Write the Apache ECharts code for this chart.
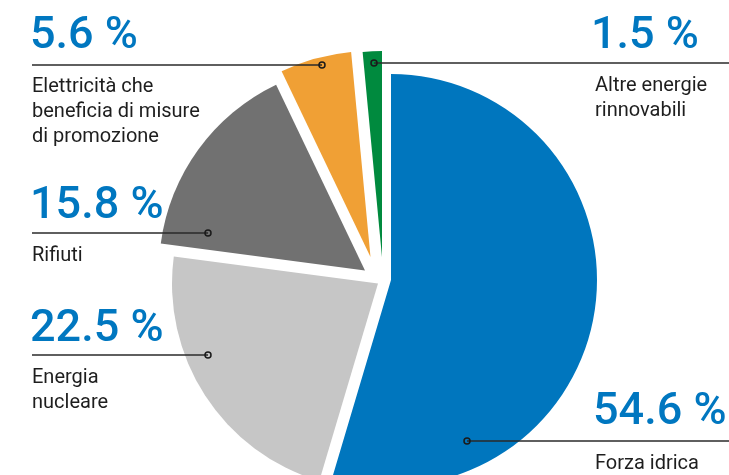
<!DOCTYPE html>
<html>
<head>
<meta charset="utf-8">
<script src="https://cdn.jsdelivr.net/npm/echarts@6/dist/echarts.min.js"></script>
<style>
html,body{margin:0;padding:0;background:#fff;}
#chart{width:729px;height:475px;}
</style>
</head>
<body>
<div id="chart"></div>
<script>
// ---- data ----
const categories = ['Forza idrica', 'Energia nucleare', 'Rifiuti', 'Elettricità che beneficia di misure di promozione', 'Altre energie rinnovabili'];
const values = [54.6, 22.5, 15.8, 5.6, 1.5];
const nameLines = [
  ['Forza idrica'],
  ['Energia', 'nucleare'],
  ['Rifiuti'],
  ['Elettricità che', 'beneficia di misure', 'di promozione'],
  ['Altre energie', 'rinnovabili']
];

// ---- styling / layout ----
const colors = ['#0076BE', '#C6C6C6', '#717171', '#F0A035', '#008A3E'];
const centers = [[391, 280], [378, 283.5], [365, 270.5], [370.5, 257], [382, 257]];
const R = 206;
const blue = '#0077C0';
const ink = '#1e1e1e';

const labelLayout = [
  {tx: 595, nx: 593, ny: 413, ly: 441, x1: 467, x2: 729, cx: 467, nameY: 464},
  {tx: 32, nx: 30, ny: 330, ly: 355, x1: 32, x2: 208, cx: 208, nameY: 378},
  {tx: 32, nx: 30, ny: 207, ly: 233, x1: 32, x2: 208, cx: 208, nameY: 256},
  {tx: 32, nx: 30, ny: 37, ly: 65, x1: 32, x2: 322, cx: 322, nameY: 87},
  {tx: 595, nx: 591, ny: 37, ly: 63, x1: 374, x2: 729, cx: 374, nameY: 85.5}
];

const series = values.map((_, k) => ({
  type: 'pie',
  silent: true,
  animation: false,
  center: centers[k],
  radius: [0, R],
  startAngle: 90,
  clockwise: true,
  label: {show: false},
  labelLine: {show: false},
  z: 2,
  data: values.map((v, i) => ({
    name: categories[i],
    value: v,
    itemStyle: i === k ? {color: colors[i]} : {color: 'rgba(0,0,0,0)', opacity: 0}
  }))
}));

const graphic = [];
values.forEach((v, i) => {
  const L = labelLayout[i];
  graphic.push({
    type: 'text', x: L.nx, y: L.ny, z: 10,
    style: {text: v.toFixed(1) + ' %', font: '500 45px Roboto', fill: blue, textAlign: 'left', verticalAlign: 'middle', textVerticalAlign: 'middle'}
  });
  graphic.push({
    type: 'line', z: 10,
    shape: {x1: L.x1, y1: L.ly, x2: L.x2, y2: L.ly},
    style: {stroke: '#2a2a2a', lineWidth: 1.5}
  });
  graphic.push({
    type: 'circle', z: 11,
    shape: {cx: L.cx, cy: L.ly, r: 3},
    style: {stroke: '#1a1a1a', lineWidth: 1.5, fill: 'rgba(0,0,0,0)'}
  });
  nameLines[i].forEach((t, j) => {
    graphic.push({
      type: 'text', x: L.tx, y: L.nameY + j * 25, z: 10,
      style: {text: t, font: '400 20px Roboto', fill: ink, textAlign: 'left', verticalAlign: 'middle', textVerticalAlign: 'middle'}
    });
  });
});

const chart = echarts.init(document.getElementById('chart'), null, {renderer: 'canvas'});
chart.setOption({
  backgroundColor: '#fff',
  animation: false,
  series: series,
  graphic: graphic
});
</script>
</body>
</html>
